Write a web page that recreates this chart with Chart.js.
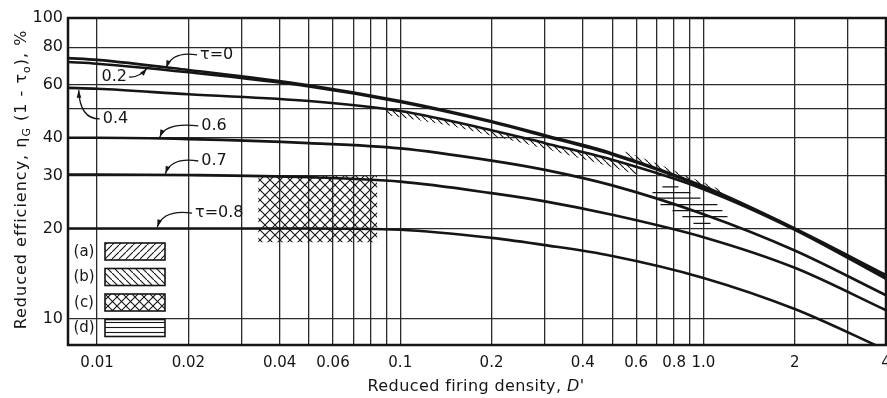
<!DOCTYPE html>
<html>
<head>
<meta charset="utf-8">
<script src="https://cdn.jsdelivr.net/npm/chart.js@4.4.0/dist/chart.umd.min.js"></script>
<style>
  body { margin: 0; background: #fff; }
  #wrap { width: 887px; height: 398px; }
</style>
</head>
<body>
<div id="wrap"><canvas id="densityChart"></canvas></div>
<script>
// reduced firing density D' (x) and reduced efficiency in % (y)
const xValues = [0.008, 0.01, 0.02, 0.05, 0.1, 0.2, 0.3, 0.5, 1, 2, 4];
const tau00 = [73.6, 72.6, 67.2, 59.8, 53.0, 45.4, 40.8, 35.5, 27.6, 20.0, 14.0];
const tau02 = [71.4, 70.5, 66.0, 59.2, 52.6, 45.1, 40.5, 35.2, 27.4, 19.9, 13.8];
const tau04 = [58.6, 58.2, 55.8, 53.0, 49.1, 42.4, 38.4, 33.8, 27.0, 19.8, 13.6];
const tau06 = [40.0, 40.0, 39.6, 38.4, 36.9, 33.6, 31.3, 27.8, 22.3, 16.9, 12.0];
const tau07 = [30.2, 30.2, 30.1, 29.6, 28.6, 26.2, 24.6, 22.2, 18.7, 14.8, 10.7];
const tau08 = [20.0, 20.0, 20.0, 20.0, 19.8, 18.6, 17.6, 16.2, 13.7, 10.8, 7.9];

// hatched zone (b): under the tau=0.4 curve, then above the merged curves
const bandBX = [0.09, 0.15, 0.2, 0.3, 0.45, 0.6];
const bandBLow = [47.6, 43.6, 40.6, 36.8, 32.9, 30.2];
const bandB2X = [0.55, 0.7, 0.85, 1.0, 1.15];
const bandB2High = [36.0, 32.9, 30.3, 28.4, 26.8];

// cross-hatched zone (c)
const boxCX = [0.034, 0.084];
const boxCTop = [30, 30];
const boxCBottom = [18, 18];

// horizontal-line zone (d): segments from x1 to x2 at height y
const segDX1 = [0.732, 0.679, 0.711, 0.721, 0.790, 0.852, 0.927];
const segDX2 = [0.827, 0.906, 0.978, 1.112, 1.155, 1.200, 1.055];
const segDY = [27.5, 26.3, 25.2, 24.0, 22.9, 21.9, 20.8];

// axis ticks
const xGridValues = [0.01, 0.02, 0.03, 0.04, 0.05, 0.06, 0.07, 0.08, 0.09, 0.1,
                     0.2, 0.3, 0.4, 0.5, 0.6, 0.7, 0.8, 0.9, 1, 2, 3, 4];
const xLabelValues = [0.01, 0.02, 0.04, 0.06, 0.1, 0.2, 0.4, 0.6, 0.8, 1, 2, 4];
const xLabelText = ['0.01', '0.02', '0.04', '0.06', '0.1', '0.2', '0.4', '0.6', '0.8', '1.0', '2', '4'];
const yGridValues = [10, 20, 30, 40, 50, 60, 80, 100];
const yLabelValues = [10, 20, 30, 40, 60, 80, 100];

// curve labels: text position and arrow tip, both in data units
const curveLabels = [
  { text: 'τ=0', tx: 0.0248, ty: 75.4, ax: 0.0169, ay: 68.2, side: 'left', bend: [6, -4] },
  { text: '0.2', tx: 0.0114, ty: 63.7, ax: 0.0146, ay: 68.0, side: 'right', bend: [-8, 1] },
  { text: '0.4', tx: 0.0115, ty: 46.2, ax: 0.0087, ay: 57.6, side: 'left', bend: [1, 0] },
  { text: '0.6', tx: 0.0243, ty: 43.8, ax: 0.0161, ay: 40.2, side: 'left', bend: [6, -4] },
  { text: '0.7', tx: 0.0243, ty: 33.5, ax: 0.0168, ay: 30.4, side: 'left', bend: [6, -4] },
  { text: 'τ=0.8', tx: 0.0253, ty: 22.5, ax: 0.0158, ay: 20.2, side: 'left', bend: [6, -4] }
];
const legendItems = ['(a)', '(b)', '(c)', '(d)'];
const legendHatch = ['/', '\\', 'x', '-'];

const INK = '#151515';
const FONT = '"DejaVu Sans", Verdana, sans-serif';

function pts(xs, ys) {
  return xs.map((x, i) => ({ x: x, y: ys[i] }));
}

function hatchPattern(ctx, kind, size) {
  const c = document.createElement('canvas');
  c.width = size; c.height = size;
  const g = c.getContext('2d');
  g.strokeStyle = INK;
  g.lineWidth = 1.1;
  g.beginPath();
  if (kind === '/' || kind === 'x') {
    g.moveTo(-1, size + 1); g.lineTo(size + 1, -1);
  }
  if (kind === '\\' || kind === 'x') {
    g.moveTo(-1, -1); g.lineTo(size + 1, size + 1);
  }
  if (kind === '-') {
    g.moveTo(0, size / 2); g.lineTo(size, size / 2);
  }
  g.stroke();
  return ctx.createPattern(c, 'repeat');
}

const segD = [];
segDY.forEach((y, i) => {
  segD.push({ x: segDX1[i], y: y }, { x: segDX2[i], y: y }, { x: segDX2[i], y: null });
});

const ctx = document.getElementById('densityChart').getContext('2d');

function curve(label, ys) {
  return {
    label: label,
    data: pts(xValues, ys),
    borderColor: INK,
    borderWidth: 2.6,
    pointRadius: 0,
    cubicInterpolationMode: 'monotone',
    fill: false
  };
}

const frameAndText = {
  id: 'frameAndText',
  afterDraw(chart) {
    const c = chart.ctx;
    const a = chart.chartArea;
    const xs = chart.scales.x, ys = chart.scales.y;
    c.save();
    c.strokeStyle = INK;
    c.fillStyle = INK;
    c.lineWidth = 2.5;
    c.strokeRect(a.left, a.top, a.right - a.left, a.bottom - a.top);

    // curve labels with leader arrows
    c.font = '16px ' + FONT;
    c.textAlign = 'center';
    c.textBaseline = 'middle';
    c.lineWidth = 1.3;
    curveLabels.forEach(l => {
      const tx = xs.getPixelForValue(l.tx), ty = ys.getPixelForValue(l.ty);
      const ax = xs.getPixelForValue(l.ax), ay = ys.getPixelForValue(l.ay);
      const w = c.measureText(l.text).width;
      c.fillText(l.text, tx, ty);
      const sx = l.side === 'left' ? tx - w / 2 - 3 : tx + w / 2 + 2;
      const sy = ty;
      const cx = ax + l.bend[0], cy = sy + l.bend[1];
      c.beginPath();
      c.moveTo(sx, sy);
      c.quadraticCurveTo(cx, cy, ax, ay);
      c.stroke();
      const ang = Math.atan2(ay - cy, ax - cx);
      c.beginPath();
      c.moveTo(ax, ay);
      c.lineTo(ax - 8 * Math.cos(ang - 0.3), ay - 8 * Math.sin(ang - 0.3));
      c.lineTo(ax - 8 * Math.cos(ang + 0.3), ay - 8 * Math.sin(ang + 0.3));
      c.closePath();
      c.fill();
    });

    // legend boxes, bottom left of the plot
    c.font = '15px ' + FONT;
    c.textAlign = 'center';
    legendItems.forEach((lab, i) => {
      const top = a.bottom - 102 + i * 25.5;
      const left = a.left + 37;
      c.fillStyle = INK;
      c.fillText(lab, a.left + 16, top + 9);
      c.fillStyle = hatchPattern(c, legendHatch[i], legendHatch[i] === 'x' ? 9 : (legendHatch[i] === '-' ? 5 : 7));
      c.fillRect(left, top, 60, 17);
      c.lineWidth = 1.6;
      c.strokeRect(left, top, 60, 17);
    });

    // axis titles
    c.fillStyle = INK;
    c.textAlign = 'left';
    c.textBaseline = 'alphabetic';
    const big = '16px ' + FONT, small = '11px ' + FONT;
    c.letterSpacing = '1px';
    const parts = [['Reduced efficiency, η', 0], ['G', 1], [' (1 - τ', 0], ['o', 1], ['), %', 0]];
    let total = 0;
    parts.forEach(p => { c.font = p[1] ? small : big; total += c.measureText(p[0]).width; });
    c.translate(26, (a.top + a.bottom) / 2 - 2);
    c.rotate(-Math.PI / 2);
    let pos = -total / 2;
    parts.forEach(p => {
      c.font = p[1] ? small : big;
      c.fillText(p[0], pos, p[1] ? 4 : 0);
      pos += c.measureText(p[0]).width;
    });
    c.setTransform(1, 0, 0, 1, 0, 0);

    c.letterSpacing = '0.4px';
    const xParts = [['Reduced firing density, ', big], ['D', 'italic ' + big], ['\'', big]];
    total = 0;
    xParts.forEach(p => { c.font = p[1]; total += c.measureText(p[0]).width; });
    pos = 476 - total / 2;
    xParts.forEach(p => {
      c.font = p[1];
      c.fillText(p[0], pos, 391);
      pos += c.measureText(p[0]).width;
    });
    c.restore();
  }
};

const patB = hatchPattern(ctx, '\\', 6);
const patC = hatchPattern(ctx, 'x', 10);

new Chart(ctx, {
  type: 'line',
  data: {
    datasets: [
      curve('τ=0', tau00),
      curve('τ=0.2', tau02),
      curve('τ=0.4', tau04),
      curve('τ=0.6', tau06),
      curve('τ=0.7', tau07),
      curve('τ=0.8', tau08),
      {
        label: '(b)', data: pts(bandBX, bandBLow), borderWidth: 0, pointRadius: 0,
        cubicInterpolationMode: 'monotone', backgroundColor: patB, fill: 2
      },
      {
        label: '(b) upper', data: pts(bandB2X, bandB2High), borderWidth: 0, pointRadius: 0,
        cubicInterpolationMode: 'monotone', backgroundColor: patB, fill: 0
      },
      {
        label: '(c) top', data: pts(boxCX, boxCTop), borderWidth: 0, pointRadius: 0,
        backgroundColor: patC, fill: '+1'
      },
      {
        label: '(c) bottom', data: pts(boxCX, boxCBottom), borderWidth: 0, pointRadius: 0, fill: false
      },
      {
        label: '(d)', data: segD, borderColor: INK, borderWidth: 1.2, pointRadius: 0,
        spanGaps: false, fill: false
      }
    ]
  },
  options: {
    responsive: true,
    maintainAspectRatio: false,
    animation: false,
    layout: { padding: { top: 18, right: 1, left: 0, bottom: 0 } },
    plugins: { legend: { display: false }, tooltip: { enabled: false } },
    scales: {
      x: {
        type: 'logarithmic',
        min: 0.00802,
        max: 4,
        afterBuildTicks: s => { s.ticks = xGridValues.map(v => ({ value: v })); },
        afterFit: s => { s.height = 53; s.paddingLeft = 0; s.paddingRight = 0; },
        ticks: {
          autoSkip: false,
          maxRotation: 0,
          padding: 9,
          color: INK,
          font: { family: FONT, size: 15 },
          callback: v => {
            const i = xLabelValues.indexOf(v);
            return i >= 0 ? xLabelText[i] : '';
          }
        },
        grid: { color: '#2a2a2a', lineWidth: 1.3, drawTicks: false },
        border: { display: false }
      },
      y: {
        type: 'logarithmic',
        min: 8.2,
        max: 100,
        afterBuildTicks: s => { s.ticks = yGridValues.map(v => ({ value: v })); },
        afterFit: s => { s.width = 68; s.paddingTop = 0; s.paddingBottom = 0; },
        ticks: {
          padding: 5,
          color: INK,
          font: { family: FONT, size: 16 },
          callback: v => (yLabelValues.indexOf(v) >= 0 ? String(v) : '')
        },
        grid: { color: '#2a2a2a', lineWidth: 1.3, drawTicks: false },
        border: { display: false }
      }
    }
  },
  plugins: [frameAndText]
});
</script>
</body>
</html>
